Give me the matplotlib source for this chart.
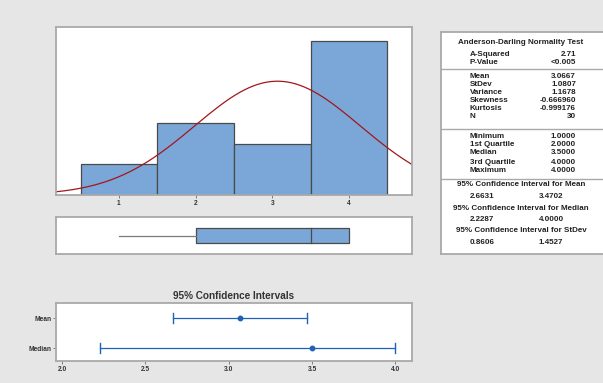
import numpy as np
import matplotlib.pyplot as plt
from matplotlib.patches import Rectangle

plt.rcParams['font.family'] = ['Liberation Sans', 'DejaVu Sans']

# histogram of the responses (scores 1..4, N = 30)
scores = [1, 2, 3, 4]
counts = [3, 7, 5, 15]

# summary statistics
ad_sq = "2.71"
p_value = "<0.005"
mean, stdev = 3.0667, 1.0807
n_obs = 30
minimum, q1, median, q3, maximum = 1.0, 2.0, 3.5, 4.0, 4.0
ci_mean = (2.6631, 3.4702)
ci_median = (2.2287, 4.0000)
ci_stdev = (0.8606, 1.4527)

moment_rows = [("Mean", "3.0667"), ("StDev", "1.0807"), ("Variance", "1.1678"),
               ("Skewness", "-0.666960"), ("Kurtosis", "-0.999176"), ("N", "30")]
quart_rows = [("Minimum", "1.0000"), ("1st Quartile", "2.0000"),
              ("Median", "3.5000"), ("3rd Quartile", "4.0000"),
              ("Maximum", "4.0000")]

W, H = 603, 383
BG = '#e6e6e6'
BAR = '#7ba7d8'
EDGE = '#4a4a4a'
FRAME = '#a9a9a9'
BLUE = '#1f63b4'
RED = '#a3161c'

fig = plt.figure(figsize=(W / 100, H / 100), dpi=100, facecolor=BG)


def panel(l, t, r, b):
    ax = fig.add_axes([l / W, 1 - b / H, (r - l) / W, (b - t) / H])
    ax.set_facecolor('white')
    for s in ax.spines.values():
        s.set_color(FRAME)
        s.set_linewidth(1.3)
    return ax


tick_kw = dict(labelsize=4.8, length=2, width=0.5, color='#555555', pad=1.5,
               labelcolor='#333333')

# histogram with fitted normal curve
ax = panel(56, 27, 412, 195)
ax.bar(scores, counts, width=1.0, color=BAR, edgecolor=EDGE, linewidth=0.9)
xs = np.linspace(0.18, 4.82, 300)
pdf = np.exp(-0.5 * ((xs - mean) / stdev) ** 2) / (stdev * np.sqrt(2 * np.pi))
ax.plot(xs, pdf * n_obs, color=RED, lw=0.9)
ax.set_xlim(0.18, 4.82)
ax.set_ylim(0, 16.35)
ax.set_xticks(scores)
ax.set_yticks([])
ax.tick_params(axis='x', **tick_kw)
for lb in ax.get_xticklabels():
    lb.set_fontweight('bold')

# boxplot
ax = panel(56, 217, 412, 254)
ax.plot([minimum, q1], [0, 0], color='#7a7a7a', lw=0.9)
ax.add_patch(Rectangle((q1, -0.5), q3 - q1, 1.0, facecolor=BAR,
                       edgecolor=EDGE, lw=0.9))
ax.plot([median, median], [-0.5, 0.5], color=EDGE, lw=0.9)
ax.set_xlim(0.18, 4.82)
ax.set_ylim(-1.3, 1.3)
ax.set_xticks([])
ax.set_yticks([])

# confidence intervals
ax = panel(56, 303, 412, 361)
ci_labels = ["Mean", "Median"]
ci_pos = [1, 0]
for (lo, hi), pt, y in zip([ci_mean, ci_median], [mean, median], ci_pos):
    ax.plot([lo, hi], [y, y], color=BLUE, lw=0.9)
    ax.plot([lo, lo], [y - 0.17, y + 0.17], color=BLUE, lw=1.0)
    ax.plot([hi, hi], [y - 0.17, y + 0.17], color=BLUE, lw=1.0)
    ax.plot(pt, y, 'o', color=BLUE, ms=3.2)
ax.set_xlim(1.964, 4.10)
ax.set_ylim(-0.42, 1.5)
ax.set_xticks([2.0, 2.5, 3.0, 3.5, 4.0])
ax.set_yticks(ci_pos)
ax.set_yticklabels(ci_labels)
ax.tick_params(axis='both', **tick_kw)
for lb in ax.get_xticklabels() + ax.get_yticklabels():
    lb.set_fontweight('bold')
ax.set_title("95% Confidence Intervals", fontsize=7.2, pad=3,
             fontweight='bold', color='#333333')

# summary table
tb = panel(441, 32, 606, 254)
tb.set_xlim(441, 606)
tb.set_ylim(254, 32)
tb.set_xticks([])
tb.set_yticks([])
tb.spines['right'].set_visible(False)
for yl in [69, 129, 179]:
    tb.axhline(yl, color=FRAME, lw=1.0)

fs = 5.8
txt = dict(fontsize=fs, fontweight='bold', color='#222222', va='center')
xl, xr, xc = 470, 576, 521
tb.text(xc, 43, "Anderson-Darling Normality Test", ha='center', **txt)
tb.text(xl, 54, "A-Squared", ha='left', **txt)
tb.text(xr, 54, ad_sq, ha='right', **txt)
tb.text(xl, 62, "P-Value", ha='left', **txt)
tb.text(xr, 62, p_value, ha='right', **txt)

for (name, val), y in zip(moment_rows, [77, 85, 93, 101, 109, 117]):
    tb.text(xl, y, name, ha='left', **txt)
    tb.text(xr, y, val, ha='right', **txt)
for (name, val), y in zip(quart_rows, [136, 144, 153, 162, 171]):
    tb.text(xl, y, name, ha='left', **txt)
    tb.text(xr, y, val, ha='right', **txt)

ci_rows = [("95% Confidence Interval for Mean", ci_mean),
           ("95% Confidence Interval for Median", ci_median),
           ("95% Confidence Interval for StDev", ci_stdev)]
for (head, (lo, hi)), y in zip(ci_rows, [185, 208, 231]):
    tb.text(xc, y, head, ha='center', **txt)
    tb.text(482, y + 11.5, f"{lo:.4f}", ha='center', **txt)
    tb.text(551, y + 11.5, f"{hi:.4f}", ha='center', **txt)

fig.savefig("out.png", dpi=100, facecolor=BG)
